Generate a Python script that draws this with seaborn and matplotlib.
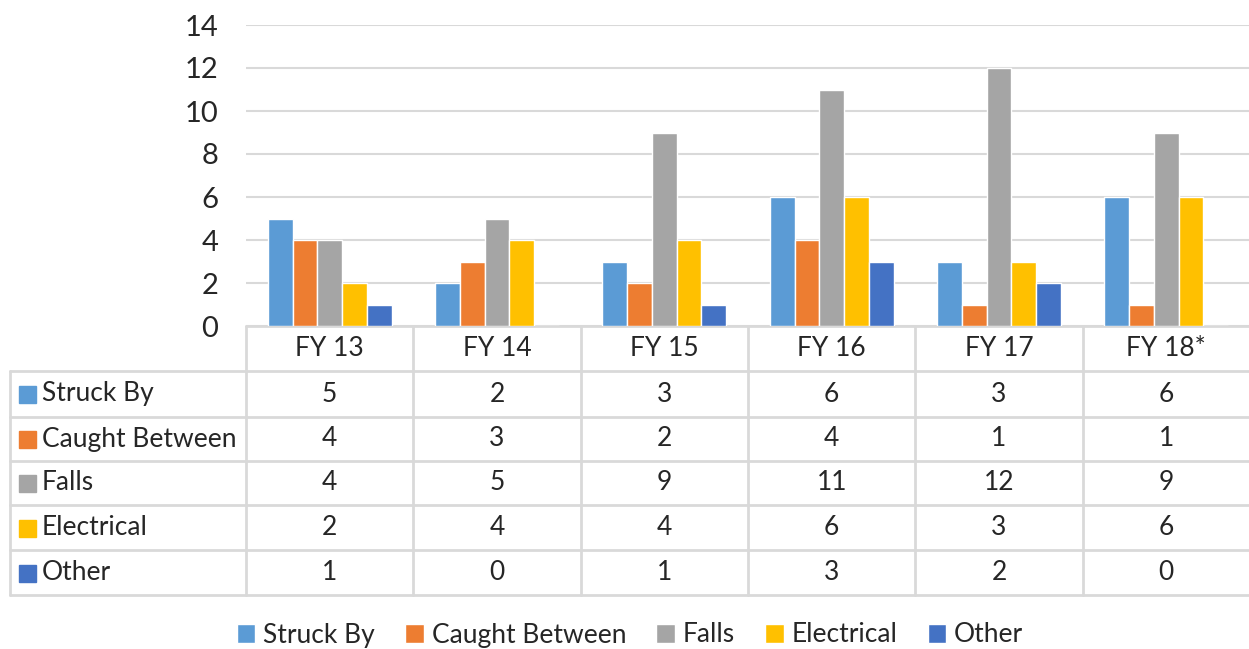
import numpy as np
import pandas as pd
import matplotlib
matplotlib.use('Agg')
import matplotlib.pyplot as plt
import seaborn as sns

years = ['FY 13', 'FY 14', 'FY 15', 'FY 16', 'FY 17', 'FY 18*']
causes = ['Struck By', 'Caught Between', 'Falls', 'Electrical', 'Other']
struck_by = [5, 2, 3, 6, 3, 6]
caught_between = [4, 3, 2, 4, 1, 1]
falls = [4, 5, 9, 11, 12, 9]
electrical = [2, 4, 4, 6, 3, 6]
other = [1, 0, 1, 3, 2, 0]
colors = ['#5B9BD5', '#ED7D31', '#A5A5A5', '#FFC000', '#4472C4']

series = [struck_by, caught_between, falls, electrical, other]
df = pd.DataFrame([(y, c, v) for c, vals in zip(causes, series) for y, v in zip(years, vals)],
                  columns=['year', 'cause', 'count'])

sns.set_style('white')
plt.rcParams['font.family'] = ['Lato', 'DejaVu Sans']
grid_c = '#d9d9d9'
W, H = 1249, 649

fig = plt.figure(figsize=(W / 100, H / 100), dpi=100)

# pixel layout of the chart
x0, x1 = 246, 1250
y_top, y_axis = 25, 326
ax = fig.add_axes([x0 / W, 1 - y_axis / H, (x1 - x0) / W, (y_axis - y_top) / H])
sns.barplot(data=df, x='year', y='count', hue='cause', hue_order=causes, order=years,
            palette=colors, saturation=1, width=0.74, edgecolor='white', linewidth=1, ax=ax)
handles, labels = ax.get_legend_handles_labels()
ax.get_legend().remove()
ax.set_xlim(-0.5, len(years) - 0.5)
ax.set_ylim(0, 14)
ax.set_yticks(range(0, 15, 2))
ax.yaxis.grid(True, color=grid_c, linewidth=1.5)
ax.set_axisbelow(True)
ax.tick_params(axis='y', length=0, pad=20, labelsize=21)
ax.set_xticks([])
ax.set_xlabel('')
ax.set_ylabel('')
for s in ax.spines.values():
    s.set_visible(False)

# data table drawn underneath in pixel coordinates
tx = fig.add_axes([0, 0, 1, 1], zorder=-1)
tx.set_xlim(0, W)
tx.set_ylim(H, 0)
tx.axis('off')
left = 10
col_w = (x1 - x0) / len(years)
row_edges = [326, 371, 417, 461, 505, 550, 595]
lw = 2
for k in range(len(years) + 1):
    tx.plot([x0 + k * col_w] * 2, [row_edges[0], row_edges[-1]], color=grid_c, lw=lw)
tx.plot([left, left], [row_edges[1], row_edges[-1]], color=grid_c, lw=lw)
tx.plot([x0, x1], [row_edges[0]] * 2, color=grid_c, lw=lw)
for ye in row_edges[1:]:
    tx.plot([left, x1], [ye, ye], color=grid_c, lw=lw)

fs = 19
hc = (row_edges[0] + row_edges[1]) / 2
for j, y in enumerate(years):
    tx.text(x0 + (j + 0.5) * col_w, hc, y, ha='center', va='center', fontsize=fs)
for i, (c, vals) in enumerate(zip(causes, series)):
    rc = (row_edges[i + 1] + row_edges[i + 2]) / 2
    tx.add_patch(plt.Rectangle((19, rc - 8), 17, 17, color=colors[i]))
    tx.text(42, rc, c, ha='left', va='center', fontsize=fs)
    for j, v in enumerate(vals):
        tx.text(x0 + (j + 0.5) * col_w, rc, str(v), ha='center', va='center', fontsize=fs)

fig.legend(handles, labels, loc='center', bbox_to_anchor=(630 / W, 1 - 635 / H), ncol=5,
           frameon=False, fontsize=fs, handlelength=0.7, handleheight=0.7,
           handletextpad=0.3, columnspacing=1.15)

fig.savefig('out.png', dpi=100)
